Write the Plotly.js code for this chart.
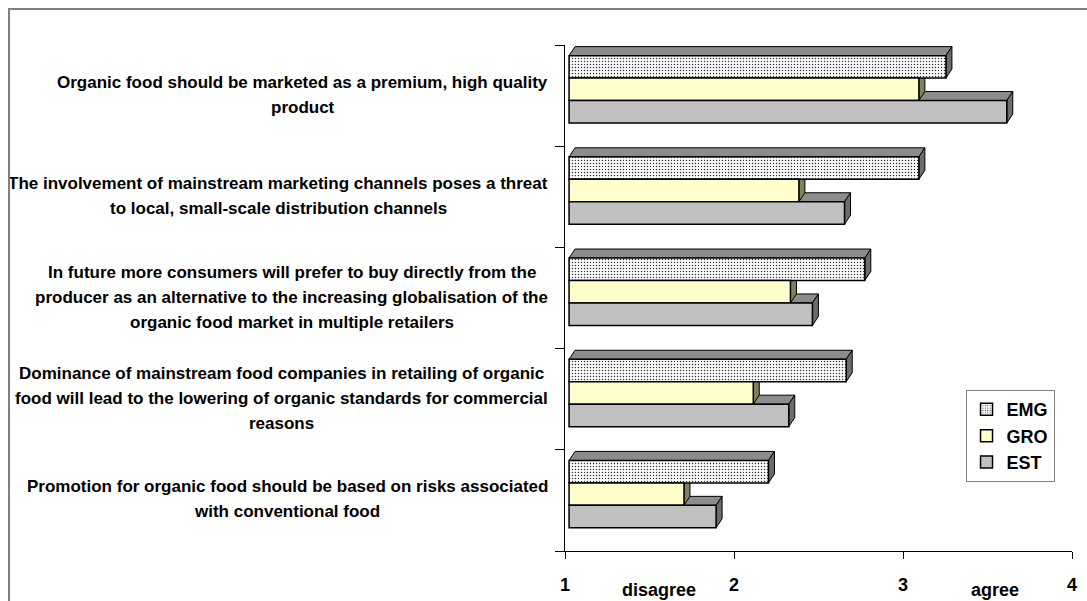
<!DOCTYPE html>
<html>
<head>
<meta charset="utf-8">
<script src="https://cdn.plot.ly/plotly-3.0.1.min.js"></script>
<style>
  html, body { margin: 0; padding: 0; background: #fff; }
  #wrap { position: relative; width: 1087px; height: 601px; overflow: hidden; }
  #chart { position: absolute; left: 0; top: 0; width: 1087px; height: 601px; }
  #frame { position: absolute; left: 8px; top: 8px; width: 1100px; height: 700px;
           border-top: 2px solid #808080; border-left: 2px solid #808080; pointer-events: none; }
</style>
</head>
<body>
<div id="wrap"><div id="chart"></div><div id="frame"></div></div>
<script>
// ---- data ----
const categories = [
  "Organic food should be marketed as a premium, high quality<br>product",
  "The involvement of mainstream marketing channels poses a threat<br>to local, small-scale distribution channels",
  "In future more consumers will prefer to buy directly from the<br>producer as an alternative to the increasing globalisation of the<br>organic food market in multiple retailers",
  "Dominance of mainstream food companies in retailing of organic<br>food will lead to the lowering of organic standards for commercial<br>reasons",
  "Promotion for organic food should be based on risks associated<br>with conventional food"
];
const seriesNames = ["EMG", "GRO", "EST"];
const emg = [3.23, 3.07, 2.75, 2.64, 2.18];
const gro = [3.07, 2.36, 2.31, 2.09, 1.68];
const est = [3.59, 2.63, 2.44, 2.30, 1.87];
const xTickVals = [1, 2, 3, 4];
const xTickText = ["1", "2", "3", "4"];
const scaleLabels = ["disagree", "agree"];

// ---- styling ----
const FONT = "Liberation Sans, Arial, sans-serif";
const ORIGIN = 1;
const frontShift = 0.024;       // 3D projection shift of front faces
const barW = 0.222;
const offsets = {EMG: 0.173, GRO: -0.049, EST: -0.271};
const dx = 0.0355, dy = 0.089;  // 3D depth in data units
const frontFill = {EMG: "#ffffff", GRO: "#ffffcc", EST: "#c0c0c0"};
const topFill = {EMG: "#8c8c8c", GRO: "#a3a370", EST: "#8c8c8c"};
const sideFill = {EMG: "#6c6c6c", GRO: "#80805a", EST: "#6c6c6c"};
const LABEL_SIZE = 17, LINE_GAP = 25, LABEL_PAD = 17;

const n = categories.length;
const pos = categories.map((c, i) => n - 1 - i);
const dataBy = {EMG: emg, GRO: gro, EST: est};

const traces = seriesNames.map(name => {
  const t = {
    type: "bar",
    orientation: "h",
    name: name,
    y: pos,
    x: dataBy[name].map(v => v - ORIGIN),
    base: ORIGIN + frontShift,
    width: barW,
    offset: offsets[name],
    marker: {color: frontFill[name], line: {color: "#000", width: 1.5}},
    hoverinfo: "skip"
  };
  if (name === "EMG") {
    t.marker.pattern = {shape: ".", fgcolor: "#333", bgcolor: "#fff", size: 3, solidity: 0.2};
  }
  return t;
});

// 3D faces (top and side), drawn below the front faces
const shapes = [];
["EST", "GRO", "EMG"].forEach(name => {
  dataBy[name].forEach((v, i) => {
    const x0 = ORIGIN + frontShift, x1 = v + frontShift;
    const yb = pos[i] + offsets[name], yt = yb + barW;
    shapes.push({type: "path", xref: "x", yref: "y", layer: "below",
      path: `M${x0},${yt} L${x1},${yt} L${x1 + dx},${yt + dy} L${x0 + dx},${yt + dy} Z`,
      fillcolor: topFill[name], line: {color: "#000", width: 1}});
    shapes.push({type: "path", xref: "x", yref: "y", layer: "below",
      path: `M${x1},${yb} L${x1},${yt} L${x1 + dx},${yt + dy} L${x1 + dx},${yb + dy} Z`,
      fillcolor: sideFill[name], line: {color: "#000", width: 1}});
  });
});

// category labels: one annotation per line, lines centred on the longest line
const ctx = document.createElement("canvas").getContext("2d");
ctx.font = "bold " + LABEL_SIZE + "px 'Liberation Sans', Arial, sans-serif";
const annotations = [];
categories.forEach((c, i) => {
  const lines = c.split("<br>");
  const maxW = Math.max(...lines.map(l => ctx.measureText(l).width));
  lines.forEach((line, j) => {
    annotations.push({
      xref: "paper", yref: "y", x: 0, y: pos[i], xanchor: "center", yanchor: "middle",
      xshift: -(LABEL_PAD + maxW / 2), yshift: -(j - (lines.length - 1) / 2) * LINE_GAP + 1,
      showarrow: false, text: line,
      font: {family: FONT, size: LABEL_SIZE, color: "#000", weight: "bold"}
    });
  });
});
annotations.push({xref: "paper", yref: "paper", x: 0.185, y: -0.053, xanchor: "center", yanchor: "top",
  showarrow: false, text: scaleLabels[0], font: {family: FONT, size: 18, color: "#000", weight: "bold"}});
annotations.push({xref: "paper", yref: "paper", x: 0.848, y: -0.053, xanchor: "center", yanchor: "top",
  showarrow: false, text: scaleLabels[1], font: {family: FONT, size: 18, color: "#000", weight: "bold"}});

const layout = {
  width: 1087, height: 601,
  margin: {l: 565, r: 15, t: 45, b: 50},
  paper_bgcolor: "#fff", plot_bgcolor: "#fff",
  barmode: "overlay",
  showlegend: true,
  legend: {x: 0.79, y: 0.318, xanchor: "left", yanchor: "top",
    bordercolor: "#808080", borderwidth: 1, bgcolor: "#fff",
    font: {family: FONT, size: 18, color: "#000", weight: "bold"},
    traceorder: "normal", itemwidth: 30, tracegroupgap: 0},
  xaxis: {range: [1, 4], tickvals: xTickVals, ticktext: xTickText, showgrid: false, zeroline: false,
    showline: true, linecolor: "#000", linewidth: 1, ticks: "outside", ticklen: 7, tickcolor: "#000",
    ticklabelstandoff: 10,
    tickfont: {family: FONT, size: 18, color: "#000", weight: "bold"}, fixedrange: true},
  yaxis: {range: [-0.5, n - 0.5], tickvals: pos.map(p => p - 0.5).concat([n - 0.5]),
    showticklabels: false, showgrid: false, zeroline: false, showline: true, linecolor: "#000",
    linewidth: 1, ticks: "outside", ticklen: 9, tickcolor: "#000", fixedrange: true},
  shapes: shapes,
  annotations: annotations
};

Plotly.newPlot("chart", traces, layout, {displayModeBar: false, staticPlot: true});
</script>
</body>
</html>
